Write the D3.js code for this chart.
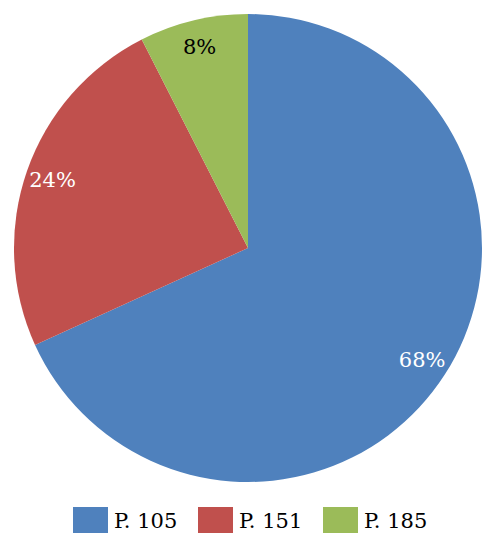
<!DOCTYPE html>
<html><head><meta charset="utf-8">
<script src="https://cdn.jsdelivr.net/npm/d3@7"></script>
<style>html,body{margin:0;padding:0;background:#fff;}</style>
</head><body>
<svg id="chart" width="496" height="552"></svg>
<script>
const categories = ["P. 105", "P. 151", "P. 185"];
const values = [68.2, 24.3, 7.5];
const colors = ["#4F81BD", "#C0504D", "#9BBB59"];
const labelColors = ["#ffffff", "#ffffff", "#000000"];

const svg = d3.select("#chart");
const cx = 248, cy = 248, r = 234;
const font = "'DejaVu Serif', serif";

const total = d3.sum(values);
const pie = d3.pie().sort(null).value(d => d.v);
const data = categories.map((c, i) => ({c, v: values[i], i}));
const arcs = pie(data);
const arc = d3.arc().innerRadius(0).outerRadius(r);
const labelArc = d3.arc().innerRadius(r * 0.885).outerRadius(r * 0.885);

const g = svg.append("g").attr("transform", `translate(${cx},${cy})`);
g.selectAll("path").data(arcs).join("path")
  .attr("d", arc)
  .attr("fill", d => colors[d.data.i]);

g.selectAll("text").data(arcs).join("text")
  .attr("transform", d => `translate(${labelArc.centroid(d)})`)
  .attr("text-anchor", "middle")
  .attr("dominant-baseline", "central")
  .attr("font-family", font).attr("font-size", 21)
  .attr("fill", d => labelColors[d.data.i])
  .text(d => Math.round(d.data.v / total * 100) + "%");

// legend
const legendX = d3.scaleOrdinal().domain(categories).range([73, 198, 323]);
const lg = svg.append("g");
const items = lg.selectAll("g").data(categories).join("g")
  .attr("transform", d => `translate(${legendX(d)},507)`);
items.append("rect").attr("width", 35).attr("height", 26)
  .attr("fill", (d, i) => colors[i]);
items.append("text").attr("x", 41).attr("y", 21)
  .attr("font-family", font).attr("font-size", 21).attr("fill", "#000")
  .text(d => d);
</script>
</body></html>
